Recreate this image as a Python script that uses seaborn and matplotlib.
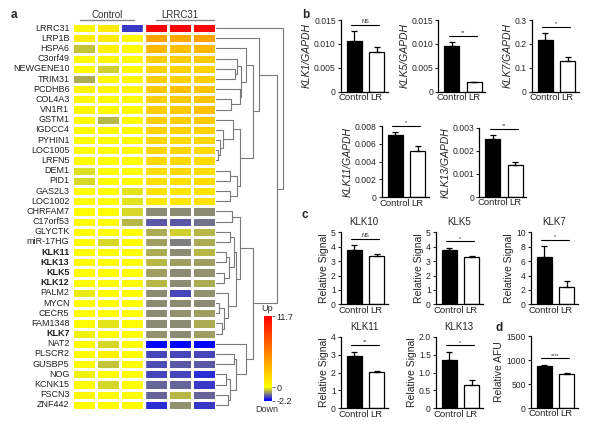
import numpy as np
import pandas as pd
import matplotlib
matplotlib.use('Agg')
import matplotlib.pyplot as plt
import seaborn as sns
from matplotlib.colors import LinearSegmentedColormap, Normalize
from matplotlib.cm import ScalarMappable

# %% Data
# ----------------------------------------------------------------------------

genes = ['LRRC31', 'LRP1B', 'HSPA6', 'C3orf49', 'NEWGENE10', 'TRIM31', 'PCDHB6',
         'COL4A3', 'VN1R1', 'GSTM1', 'IGDCC4', 'PYHIN1', 'LOC1005', 'LRFN5',
         'DEM1', 'PID1', 'GAS2L3', 'LOC1002', 'CHRFAM7', 'C17orf53', 'GLYCTK',
         'miR-17HG', 'KLK11', 'KLK13', 'KLK5', 'KLK12', 'PALM2', 'MYCN', 'CECR5',
         'FAM1348', 'KLK7', 'NAT2', 'PLSCR2', 'GUSBP5', 'NOG', 'KCNK15', 'FSCN3',
         'ZNF442']
bold_genes = ['KLK11', 'KLK13', 'KLK5', 'KLK12', 'KLK7']

ctrl_1 = [0.4, 0.8, -0.5, 0.2, 0.1, -0.7, 0.5, 0.3, 0.4, 0.2, 0.2, 0.1, 0.1, 0.2,
          -0.25, -0.3, 0.1, 0.1, 0.1, 0.1, 0.1, 0.1, 0.1, 0.2, 0.1, 0.1, -0.15,
          0.1, 0.1, 0.1, -0.1, 0.1, 0.1, 0.1, -0.1, 0.1, 0.4, 0.1]
ctrl_2 = [0.9, 1.0, 0.6, 0.4, -0.4, 0.3, 0.3, 0.2, 0.2, -0.6, 0.2, 0.1, 0.1, 0.1,
          0.1, 0.1, 0.1, 0.1, 0.1, 0.1, 0.1, -0.3, 0.1, 0.1, 0.1, 0.1, 0.1, 0.1,
          0.1, -0.2, 0.1, -0.3, 0.7, -0.5, 0.1, -0.3, 0.1, 0.1]
ctrl_3 = [-1.7, 0.2, 0.2, 0.1, 0.2, 0.4, 0.3, 0.2, 0.2, 0.2, 0.2, 0.2, 0.2, 0.1,
          0.1, 0.2, -0.2, -0.2, -0.3, -0.6, 0.1, 0.1, 0.1, 0.1, 0.1, 0.2, 0.1,
          0.2, 0.1, 0.1, 0.1, 0.2, 0.1, 0.1, 0.1, 0.1, 0.1, 0.1]
lr_1 = [11.7, 4.3, 3.2, 2.3, 2.1, 2.3, 2.5, 2.2, 2.3, 2.3, 2.1, 1.9, 1.9, 1.8,
        1.6, 1.5, 1.3, 1.1, -1.0, -1.4, -0.7, -0.8, -0.7, -0.6, -0.8, -0.6, -1.0,
        -1.0, -1.0, -1.0, -0.9, -2.2, -1.6, -1.5, -1.6, -1.3, -1.3, -1.8]
lr_2 = [11.7, 4.0, 2.9, 2.3, 2.1, 2.1, 2.9, 2.4, 2.5, 2.3, 2.1, 1.7, 1.9, 1.8,
        1.8, 1.5, 1.2, 1.2, -1.0, -1.4, -0.4, -1.1, -1.0, -0.8, -1.0, -1.0, -1.6,
        -1.0, -0.9, -1.0, -1.0, -2.2, -1.6, -1.4, -1.6, -1.3, -0.6, -0.9]
lr_3 = [11.5, 4.3, 3.2, 2.4, 2.1, 2.3, 2.7, 2.7, 2.9, 2.5, 2.1, 1.9, 1.7, 1.7,
        1.6, 1.7, 1.3, 1.3, -1.0, -1.2, -0.6, -0.7, -0.6, -0.8, -0.9, -0.7, -0.9,
        -1.0, -0.8, -0.7, -0.8, -2.2, -1.6, -1.4, -1.8, -1.7, -1.3, -1.7]
vmin, vmax = -2.2, 11.7

# dendrogram: (left, right, merge height)
A1 = ('HSPA6', (('C3orf49', ('NEWGENE10', 'TRIM31', 18.7), 20.7),
                ('PCDHB6', ('COL4A3', 'VN1R1', 15), 24), 25), 30)
A2 = (('GSTM1', ('IGDCC4', ('PYHIN1', ('LOC1005', 'LRFN5', 2), 4), 7), 17),
      (('DEM1', 'PID1', 14), ('GAS2L3', 'LOC1002', 14), 20.7), 24)
B1 = (('CHRFAM7', 'C17orf53', 15.7),
      ((('GLYCTK', 'miR-17HG', 14), (('KLK11', 'KLK13', 10), ('KLK5', 'KLK12', 8), 13), 18),
       ('PALM2', (('MYCN', 'CECR5', 3), ('FAM1348', 'KLK7', 6), 8), 12), 20), 24)
B2 = ('NAT2', (('PLSCR2', 'GUSBP5', 18),
               (('NOG', 'KCNK15', 10), ('FSCN3', 'ZNF442', 12), 14), 20), 30)
tree = ('LRRC31', (('LRP1B', (A1, A2, 37), 43), (B1, B2, 36.7), 60.7), 67)

# qPCR (panel b)
b_genes = ['KLK1', 'KLK5', 'KLK7', 'KLK11', 'KLK13']
b_ctrl = [0.0107, 0.0096, 0.216, 0.0070, 0.00253]
b_ctrl_err = [0.0019, 0.0007, 0.028, 0.0003, 0.00015]
b_lr = [0.0084, 0.0021, 0.127, 0.0052, 0.00140]
b_lr_err = [0.0009, 0.00003, 0.017, 0.0005, 0.0001]
b_sig = ['NS', '**', '*', '*', '**']
b_ticks = [[0, 0.005, 0.010, 0.015], [0, 0.005, 0.010, 0.015], [0, 0.1, 0.2, 0.3],
           [0, 0.002, 0.004, 0.006, 0.008], [0, 0.001, 0.002, 0.003]]
b_ticklabels = [['0', '0.005', '0.010', '0.015'], ['0', '0.005', '0.010', '0.015'],
                ['0', '0.1', '0.2', '0.3'], ['0', '0.002', '0.004', '0.006', '0.008'],
                ['0', '0.001', '0.002', '0.003']]

# protein signal (panel c)
c_titles = ['KLK10', 'KLK5', 'KLK7', 'KLK11', 'KLK13']
c_ctrl = [3.8, 3.75, 6.6, 2.92, 1.35]
c_ctrl_err = [0.3, 0.17, 1.45, 0.25, 0.23]
c_lr = [3.37, 3.26, 2.45, 2.05, 0.65]
c_lr_err = [0.1, 0.07, 0.85, 0.04, 0.15]
c_sig = ['NS', '*', '*', '**', '*']
c_ticks = [[0, 1, 2, 3, 4, 5], [0, 1, 2, 3, 4, 5], [0, 2, 4, 6, 8, 10],
           [0, 1, 2, 3, 4], [0, 0.5, 1.0, 1.5, 2.0]]
c_ticklabels = [['0', '1', '2', '3', '4', '5'], ['0', '1', '2', '3', '4', '5'],
                ['0', '2', '4', '6', '8', '10'], ['0', '1', '2', '3', '4'],
                ['0', '0.5', '1.0', '1.5', '2.0']]

# AFU (panel d)
d_ctrl, d_ctrl_err = 880, 20
d_lr, d_lr_err = 710, 12
d_sig = '****'
d_ticks = [0, 500, 1000, 1500]

# %% Figure setup
# ----------------------------------------------------------------------------

sns.set_style('white')
plt.rcParams['font.family'] = ['Liberation Sans', 'DejaVu Sans']

W, H = 600, 428
fig = plt.figure(figsize=(6, 4.28), dpi=100)


def px_axes(x0, y0, x1, y1):
    return fig.add_axes([x0 / W, 1 - y1 / H, (x1 - x0) / W, (y1 - y0) / H])


def px_text(x, y, s, **kw):
    fig.text(x / W, 1 - y / H, s, **kw)


# %% a. Heatmap
# ----------------------------------------------------------------------------

heat = pd.DataFrame({'C1': ctrl_1, 'C2': ctrl_2, 'C3': ctrl_3,
                     'L1': lr_1, 'L2': lr_2, 'L3': lr_3}, index=genes)
cmap = LinearSegmentedColormap.from_list(
    'updown', [(0, '#0000ff'), (-vmin / (vmax - vmin), '#ffff00'), (1, '#ff0000')])

ax_h = px_axes(71.5, 23, 216, 410)
sns.heatmap(heat, ax=ax_h, cmap=cmap, vmin=vmin, vmax=vmax, cbar=False,
            linewidths=1.0, linecolor='white', xticklabels=False, yticklabels=True)
ax_h.axvline(3, color='white', lw=2.4)
ax_h.tick_params(axis='y', length=0, pad=1.5, labelsize=6.5)
for lab in ax_h.get_yticklabels():
    lab.set_rotation(0)
    lab.set_color('#222222')
    if lab.get_text() in bold_genes:
        lab.set_fontweight('bold')
ax_h.set_xlabel('')
ax_h.set_ylabel('')

# group headers
ax_h.text(1.5, -0.5, 'Control', ha='center', va='baseline', fontsize=7, color='#333333')
ax_h.text(4.5, -0.5, 'LRRC31', ha='center', va='baseline', fontsize=7, color='#333333')
ax_h.plot([0.35, 2.6], [-0.25, -0.25], color='#888888', lw=1, clip_on=False)
ax_h.plot([3.5, 5.9], [-0.25, -0.25], color='#888888', lw=1, clip_on=False)

# dendrogram
ax_d = px_axes(216, 23, 286, 410)
row_of = {g: i + 0.5 for i, g in enumerate(genes)}


def draw_node(node):
    if isinstance(node, str):
        return row_of[node], 0
    left, right, h = node
    yl, hl = draw_node(left)
    yr, hr = draw_node(right)
    ax_d.plot([hl, h, h, hr], [yl, yl, yr, yr], color='#7a7a7a', lw=0.8)
    return (yl + yr) / 2, h


draw_node(tree)
ax_d.set_xlim(0, 70)
ax_d.set_ylim(len(genes), 0)
ax_d.axis('off')

# colour bar
cax = px_axes(264, 316, 272, 400.5)
sm = ScalarMappable(norm=Normalize(vmin=vmin, vmax=vmax), cmap=cmap)
cb = fig.colorbar(sm, cax=cax, ticks=[vmin, 0, vmax])
cb.ax.set_yticklabels(['-2.2', '0', '11.7'])
cb.outline.set_visible(False)
cb.ax.tick_params(length=2, width=0.6, labelsize=6.5, pad=1, color='#555555')
px_text(267, 311, 'Up', ha='center', va='baseline', fontsize=6.5, color='#333333')
px_text(267, 412, 'Down', ha='center', va='baseline', fontsize=6.5, color='#333333')

# %% b-d. Bar panels
# ----------------------------------------------------------------------------


def bar_panel(x0, y0, y1, ctrl, ctrl_e, lr, lr_e, ticks, ticklabels, ylabel,
              sig, title=None, italic=False):
    ax = px_axes(x0, y0, x0 + 47, y1)
    df = pd.DataFrame({'group': ['Control', 'LR'], 'value': [ctrl, lr]})
    sns.barplot(data=df, x='group', y='value', hue='group', palette=['black', 'white'],
                edgecolor='black', linewidth=0.9, width=0.67, ax=ax, legend=False,
                errorbar=None)
    ax.errorbar([0, 1], [ctrl, lr], yerr=[[0, 0], [ctrl_e, lr_e]], fmt='none',
                ecolor='black', elinewidth=0.9, capsize=2.2, capthick=0.9, zorder=3)
    ymax = ticks[-1]
    ax.set_ylim(0, ymax)
    ax.set_xlim(-0.6, 1.5)
    ax.set_yticks(ticks)
    ax.set_yticklabels(ticklabels)
    ax.set_xlabel('')
    ax.set_ylabel(ylabel, fontsize=7.5, style='italic' if italic else 'normal', labelpad=1.5)
    sns.despine(ax=ax)
    for s in ['left', 'bottom']:
        ax.spines[s].set_linewidth(0.9)
        ax.spines[s].set_color('black')
    ax.tick_params(axis='y', left=True, direction='out', length=2.5, width=0.8,
                   labelsize=6.2, pad=1)
    ax.tick_params(axis='x', length=0, labelsize=6.8, pad=1)
    top = max(ctrl + ctrl_e, lr + lr_e)
    ys = top + 0.09 * ymax
    ax.plot([-0.12, 1.12], [ys, ys], color='black', lw=0.8, clip_on=False)
    ax.text(0.5, ys + 0.01 * ymax, sig, ha='center', va='bottom', fontsize=4)
    if title:
        ax.set_title(title, fontsize=7, pad=5)
    return ax


b_boxes = [(340.7, 20, 91.7), (438.3, 20, 91.7), (531.7, 20, 91.7),
           (381.7, 126, 197.3), (479.3, 127.7, 197)]
for i, g in enumerate(b_genes):
    x0, y0, y1 = b_boxes[i]
    bar_panel(x0, y0, y1, b_ctrl[i], b_ctrl_err[i], b_lr[i], b_lr_err[i],
              b_ticks[i], b_ticklabels[i], f'{g}/GAPDH', b_sig[i], italic=True)

c_boxes = [(340.7, 232.3, 304.3), (435.7, 232.3, 304.3), (530.7, 232.3, 304.3),
           (340.7, 336.7, 408.3), (435.7, 336.7, 408.3)]
for i, t in enumerate(c_titles):
    x0, y0, y1 = c_boxes[i]
    bar_panel(x0, y0, y1, c_ctrl[i], c_ctrl_err[i], c_lr[i], c_lr_err[i],
              c_ticks[i], c_ticklabels[i], 'Relative Signal', c_sig[i], title=t)

bar_panel(530.7, 336, 408, d_ctrl, d_ctrl_err, d_lr, d_lr_err, d_ticks,
          [str(t) for t in d_ticks], 'Relative AFU', d_sig)

# panel letters
for letter, (x, y) in {'a': (11, 18), 'b': (302, 18), 'c': (302, 218), 'd': (496, 331)}.items():
    px_text(x, y, letter, fontsize=8.5, fontweight='bold', va='baseline')

fig.savefig('out.png', dpi=100)
